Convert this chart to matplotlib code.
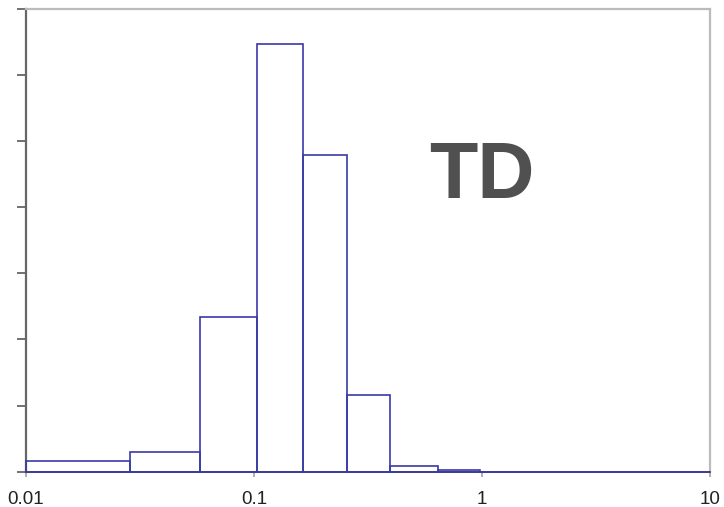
import matplotlib
matplotlib.use("Agg")
import matplotlib.pyplot as plt
import numpy as np

# bin edges (log-spaced-ish) and bin heights in percent
bin_edges = [0.01, 0.0286, 0.058, 0.103, 0.164, 0.255, 0.394, 0.643, 0.98, 10]
bin_heights = [1.66, 2.98, 23.4, 64.6, 47.8, 11.6, 0.9, 0.3, 0.0]
x_ticks = [0.01, 0.1, 1, 10]
x_tick_labels = ["0.01", "0.1", "1", "10"]
y_ticks = [0, 10, 20, 30, 40, 50, 60, 70]
label = "TD"

W, H = 724, 507
fig = plt.figure(figsize=(W / 100, H / 100), dpi=100)
ax = fig.add_axes([26 / W, (H - 471.7) / H, (710 - 26) / W, (471.7 - 8.5) / H])

left = np.array(bin_edges[:-1])
widths = np.diff(bin_edges)
ax.bar(left, bin_heights, width=widths, align="edge", fill=False,
       edgecolor="#3a3aa6", linewidth=1.2, zorder=3, clip_on=False)

ax.set_xscale("log")
ax.set_xlim(0.01, 10)
ax.set_ylim(0, 70)
ax.set_xticks(x_ticks)
ax.set_xticklabels(x_tick_labels, fontsize=13.5, color="#222222", family="Liberation Sans")
ax.xaxis.set_minor_locator(matplotlib.ticker.NullLocator())
ax.set_yticks(y_ticks)
ax.tick_params(axis="y", direction="out", length=6.5, width=1.3, color="#666666",
               labelleft=False)
ax.tick_params(axis="x", direction="out", length=3.6, width=1.3, color="#aaaaaa",
               pad=10)

ax.spines["left"].set_color("#666666")
ax.spines["left"].set_linewidth(1.6)
ax.spines["bottom"].set_color("#333333")
ax.spines["bottom"].set_linewidth(1.2)
for s in ("top", "right"):
    ax.spines[s].set_color("#bbbbbb")
    ax.spines[s].set_linewidth(1.6)

ax.text(0.59, 0.636, label, transform=ax.transAxes, fontsize=57,
        fontweight="bold", family="Liberation Sans", color="#505050",
        ha="left", va="center")

fig.savefig("out.png", dpi=100)
